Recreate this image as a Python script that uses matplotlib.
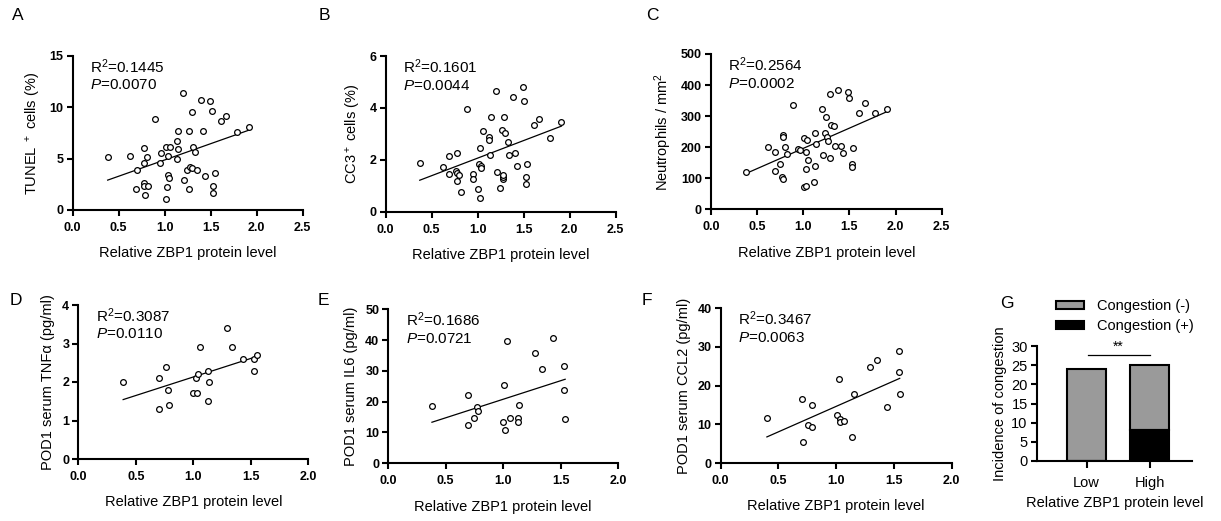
import numpy as np
import matplotlib
matplotlib.use('Agg')
import matplotlib.pyplot as plt
from matplotlib.patches import Patch

plt.rcParams['font.family'] = ['Liberation Sans', 'DejaVu Sans']
plt.rcParams['mathtext.fontset'] = 'custom'
plt.rcParams['mathtext.rm'] = 'Liberation Sans'
plt.rcParams['mathtext.it'] = 'Liberation Sans:italic'
plt.rcParams['mathtext.bf'] = 'Liberation Sans:bold'

# ---------------- data ----------------
A_x = [0.38,0.62,0.70,0.69,0.78,0.81,0.78,0.78,0.77,0.82,0.79,0.89,0.96,0.95,1.01,1.06,1.04,1.04,1.05,1.03,1.01,1.14,1.13,1.14,1.13,1.20,1.21,1.24,1.26,1.26,1.30,1.28,1.30,1.31,1.33,1.35,1.39,1.42,1.44,1.49,1.51,1.53,1.53,1.55,1.61,1.67,1.79,1.92]
A_y = [5.13,5.29,3.90,2.08,6.07,5.19,4.60,2.66,2.34,2.37,1.43,8.90,5.58,4.60,6.17,6.17,5.23,3.44,3.15,2.20,1.10,7.66,6.69,5.90,4.94,11.36,2.89,3.90,7.70,2.08,9.58,4.22,4.06,6.17,5.68,3.90,10.70,7.66,3.34,10.58,9.68,2.34,1.66,3.57,8.64,9.19,7.63,8.12]

B_x = [0.37,0.62,0.69,0.77,0.69,0.76,0.77,0.78,0.80,0.82,0.88,0.95,0.95,1.00,1.02,1.01,1.04,1.04,1.03,1.06,1.12,1.12,1.13,1.14,1.20,1.21,1.24,1.26,1.27,1.28,1.28,1.29,1.30,1.33,1.34,1.38,1.41,1.43,1.49,1.50,1.53,1.53,1.54,1.61,1.67,1.79,1.91]
B_y = [1.86,1.72,2.15,2.25,1.45,1.57,1.50,1.18,1.40,0.75,3.95,1.44,1.27,0.87,0.54,1.85,1.76,1.67,2.47,3.10,2.88,2.76,2.19,3.64,4.65,1.54,0.91,3.15,1.25,1.34,1.43,3.66,3.05,2.69,2.17,4.41,2.25,1.76,4.82,4.25,1.08,1.35,1.84,3.35,3.56,2.85,3.46]

C_x = [0.38,0.62,0.69,0.69,0.75,0.78,0.78,0.77,0.78,0.80,0.82,0.89,0.94,0.96,1.01,1.04,1.03,1.05,1.03,1.01,1.03,1.12,1.13,1.14,1.13,1.20,1.21,1.23,1.25,1.26,1.27,1.29,1.29,1.30,1.33,1.34,1.38,1.41,1.43,1.49,1.50,1.53,1.53,1.54,1.60,1.67,1.78,1.91]
C_y = [121,202,183,124,146,238,234,103,98,201,178,336,193,191,230,223,185,158,129,71,76,89,138,210,245,322,174,246,298,234,220,165,371,272,269,205,384,203,180,379,357,147,137,196,310,341,309,322]

D_x = [0.39,0.70,0.76,0.78,0.70,0.79,1.00,1.03,1.02,1.04,1.06,1.13,1.14,1.13,1.29,1.34,1.43,1.53,1.55,1.53]
D_y = [2.00,2.10,2.40,1.80,1.30,1.39,1.71,1.71,2.10,2.21,2.90,2.29,2.00,1.50,3.40,2.90,2.60,2.60,2.70,2.29]

E_x = [0.38,0.69,0.69,0.75,0.77,0.78,1.00,1.02,1.01,1.03,1.06,1.13,1.13,1.14,1.28,1.34,1.43,1.53,1.53,1.54]
E_y = [18.5,22.3,12.3,14.7,18.3,16.9,13.3,10.8,25.5,39.7,14.6,14.8,13.4,18.8,35.9,30.5,40.6,31.6,23.7,14.4]

F_x = [0.40,0.70,0.71,0.79,0.76,0.79,1.02,1.01,1.03,1.03,1.07,1.15,1.14,1.29,1.35,1.44,1.54,1.54,1.55]
F_y = [11.6,16.5,5.5,14.9,9.8,9.4,21.6,12.4,11.5,10.6,10.9,17.9,6.6,24.7,26.6,14.6,29.0,23.6,17.8]

stats_r2 = ["0.1445", "0.1601", "0.2564", "0.3087", "0.1686", "0.3467"]
stats_p = ["0.0070", "0.0044", "0.0002", "0.0110", "0.0721", "0.0063"]

G_groups = ["Low", "High"]
G_neg = [24, 17]
G_pos = [0, 8]
G_legend = ["Congestion (-)", "Congestion (+)"]

xlabel = "Relative ZBP1 protein level"

# ---------------- figure ----------------
W, H = 1221, 521
fig = plt.figure(figsize=(W / 100, H / 100), dpi=100)


def add_ax(l, t, r, b):
    return fig.add_axes([l / W, 1 - b / H, (r - l) / W, (b - t) / H])


def style(ax):
    for s in ['top', 'right']:
        ax.spines[s].set_visible(False)
    for s in ['left', 'bottom']:
        ax.spines[s].set_linewidth(1.5)
    ax.tick_params(width=1.5, length=4.5, direction='out', pad=2)


panels = [
    ("A", (72.7, 56, 302.7, 210), A_x, A_y, (0, 15), [0, 5, 10, 15], 2.5, r"TUNEL $^+$ cells (%)"),
    ("B", (385.7, 56, 615.7, 211.7), B_x, B_y, (0, 6), [0, 2, 4, 6], 2.5, r"CC3$^+$ cells (%)"),
    ("C", (711, 54, 941.7, 209.3), C_x, C_y, (0, 500), [0, 100, 200, 300, 400, 500], 2.5, r"Neutrophils / mm$^2$"),
    ("D", (78.3, 305, 308.3, 459), D_x, D_y, (0, 4), [0, 1, 2, 3, 4], 2.0, "POD1 serum TNFα (pg/ml)"),
    ("E", (388.3, 309.3, 618, 463.3), E_x, E_y, (0, 50), [0, 10, 20, 30, 40, 50], 2.0, "POD1 serum IL6 (pg/ml)"),
    ("F", (720.7, 308.3, 951.7, 463), F_x, F_y, (0, 40), [0, 10, 20, 30, 40], 2.0, "POD1 serum CCL2 (pg/ml)"),
]

for i, (letter, box, xs, ys, ylim, yt, xmax, ylab) in enumerate(panels):
    ax = add_ax(*box)
    style(ax)
    ax.tick_params(axis='x', pad=4)
    xs = np.array(xs); ys = np.array(ys)
    ax.scatter(xs, ys, s=17, facecolors='white', edgecolors='black', linewidths=0.9, zorder=3, clip_on=False)
    k, b0 = np.polyfit(xs, ys, 1)
    xl = np.array([xs.min(), xs.max()])
    ax.plot(xl, k * xl + b0, color='black', lw=0.9, zorder=2)
    ax.set_xlim(0, xmax)
    ax.set_ylim(*ylim)
    xt = np.arange(0, xmax + 0.01, 0.5)
    ax.set_xticks(xt)
    ax.set_xticklabels([f"{v:.1f}" for v in xt], fontweight='bold', fontsize=9)
    ax.set_yticks(yt)
    ax.set_yticklabels([str(v) for v in yt], fontweight='bold', fontsize=9)
    ax.set_xlabel(xlabel, fontsize=10.5, labelpad=9)
    ax.set_ylabel(ylab, fontsize=10.5, labelpad=5)
    ax.text(0.075, 0.93, r"R$^2$=" + stats_r2[i], transform=ax.transAxes, fontsize=11, va='center', ha='left')
    ax.text(0.075, 0.81, r"$\it{P}$=" + stats_p[i], transform=ax.transAxes, fontsize=11, va='center', ha='left')

letters = [("A", 12, 8), ("B", 319, 8), ("C", 646, 8), ("D", 10, 293), ("E", 318, 293), ("F", 642, 293), ("G", 1000, 296)]
for t, x, y in letters:
    fig.text(x / W, 1 - y / H, t, fontsize=12.5, ha='left', va='top')

# ---------------- panel G ----------------
axg = add_ax(1036.7, 346, 1192, 461)
style(axg)
gray = '#9a9a9a'
xpos = np.arange(len(G_groups))
axg.bar(xpos, G_neg, bottom=G_pos, width=0.62, color=gray, edgecolor='black', linewidth=1.5, zorder=2)
axg.bar(xpos, G_pos, width=0.62, color='black', edgecolor='black', linewidth=1.5, zorder=3)
axg.set_xlim(-0.79, 1.67)
axg.set_ylim(0, 30)
axg.set_yticks([0, 5, 10, 15, 20, 25, 30])
axg.set_yticklabels([str(v) for v in [0, 5, 10, 15, 20, 25, 30]], fontsize=10.5)
axg.set_xticks(xpos)
axg.set_xticklabels(G_groups, fontsize=10.5)
axg.tick_params(axis='x', length=5, pad=6)
axg.set_xlabel(xlabel, fontsize=10.5, labelpad=4)
axg.set_ylabel("Incidence of congestion", fontsize=10.5, labelpad=3)
axg.plot([0.03, 1.0], [27.7, 27.7], color='black', lw=0.9)
axg.text(0.5, 27.9, "**", ha='center', va='bottom', fontsize=10)

handles = [Patch(facecolor=gray, edgecolor='black', linewidth=1.5),
           Patch(facecolor='black', edgecolor='black', linewidth=1.5)]
fig.legend(handles, G_legend, loc='upper left', bbox_to_anchor=(1049 / W, 1 - 292 / H),
           frameon=False, fontsize=10.5, handlelength=1.9, handleheight=0.45,
           labelspacing=0.4, handletextpad=0.9, borderpad=0)

fig.savefig("out.png", dpi=100)
